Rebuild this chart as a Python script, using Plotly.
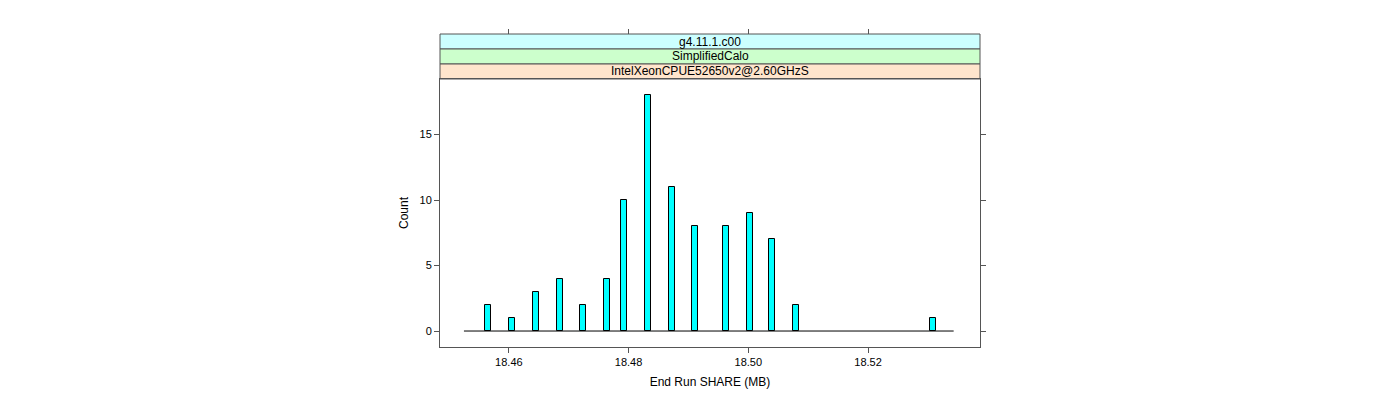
import plotly.graph_objects as go

# Data
share_mb = [18.4565, 18.4605, 18.4645, 18.4685, 18.4724, 18.4764, 18.4792, 18.4833,
            18.4873, 18.4911, 18.4962, 18.5002, 18.5040, 18.5080, 18.5308]
counts = [2, 1, 3, 4, 2, 4, 10, 18, 11, 8, 8, 9, 7, 2, 1]
baseline_x = [18.4525, 18.5343]
baseline_y = [0, 0]
x_ticks = [18.46, 18.48, 18.50, 18.52]
x_tick_labels = ["18.46", "18.48", "18.50", "18.52"]
y_ticks = [0, 5, 10, 15]
strip_labels = ["g4.11.1.c00", "SimplifiedCalo", "IntelXeonCPUE52650v2@2.60GHzS"]
strip_colors = ["#CCFFFF", "#CCFFCC", "#FFE5CC"]

W, H = 1400, 400
OFF = 8  # page body margin
x_dom = [(440 - OFF) / W, (980 - OFF) / W]
y_dom = [1 - (347 - OFF) / H, 1 - (79 - OFF) / H]
strip_top = 1 - (34 - OFF) / H
strip_h = (strip_top - y_dom[1]) / 3
font = "Liberation Sans, Arial, Helvetica, sans-serif"
frame = "#555555"

fig = go.Figure()
fig.add_trace(go.Scatter(x=baseline_x, y=baseline_y, mode="lines",
                         line=dict(color="black", width=1), showlegend=False,
                         hoverinfo="skip"))
fig.add_trace(go.Bar(x=share_mb, y=counts, width=0.001,
                     marker=dict(color="#00FFFF", line=dict(color="black", width=1)),
                     showlegend=False))

shapes = []
annotations = []
for i, (lab, col) in enumerate(zip(strip_labels, strip_colors)):
    top = strip_top - i * strip_h
    bot = top - strip_h
    shapes.append(dict(type="rect", xref="paper", yref="paper",
                       x0=x_dom[0], x1=x_dom[1], y0=bot, y1=top,
                       fillcolor=col, line=dict(color=frame, width=1), layer="below"))
    annotations.append(dict(xref="paper", yref="paper", x=(x_dom[0] + x_dom[1]) / 2,
                            y=(top + bot) / 2, text=lab, showarrow=False,
                            font=dict(family=font, size=12, color="black"),
                            xanchor="center", yanchor="middle"))

fig.update_layout(
    width=W, height=H,
    margin=dict(l=0, r=0, t=0, b=0),
    paper_bgcolor="white", plot_bgcolor="white",
    font=dict(family=font, size=11, color="black"),
    bargap=0,
    shapes=shapes,
    annotations=annotations,
    xaxis=dict(domain=x_dom, range=[18.4485, 18.5387],
               tickvals=x_ticks, ticktext=x_tick_labels,
               tickfont=dict(color="black", size=11),
               ticks="outside", ticklen=5, tickcolor=frame,
               showline=True, linecolor=frame, linewidth=1, mirror=True,
               showgrid=False, zeroline=False,
               title=dict(text="End Run SHARE (MB)", font=dict(size=12, color="black"), standoff=10),
               anchor="y"),
    xaxis2=dict(domain=x_dom, range=[18.4485, 18.5387], matches="x",
                overlaying="x", side="top", anchor="free", position=strip_top,
                tickvals=x_ticks, ticks="outside", ticklen=5, tickcolor=frame,
                showticklabels=False, showline=False, showgrid=False, zeroline=False),
    yaxis=dict(domain=y_dom, range=[-1.22, 19.24],
               tickvals=y_ticks, tickfont=dict(color="black", size=11),
               ticks="outside", ticklen=5, tickcolor=frame,
               showline=True, linecolor=frame, linewidth=1, mirror="ticks",
               showgrid=False, zeroline=False,
               title=dict(text="Count", font=dict(size=12, color="black"), standoff=8)),
)
# empty trace on xaxis2 so the top tick axis is drawn
fig.add_trace(go.Scatter(x=[None], y=[None], xaxis="x2", showlegend=False, hoverinfo="skip"))

fig.write_html("out.html")
